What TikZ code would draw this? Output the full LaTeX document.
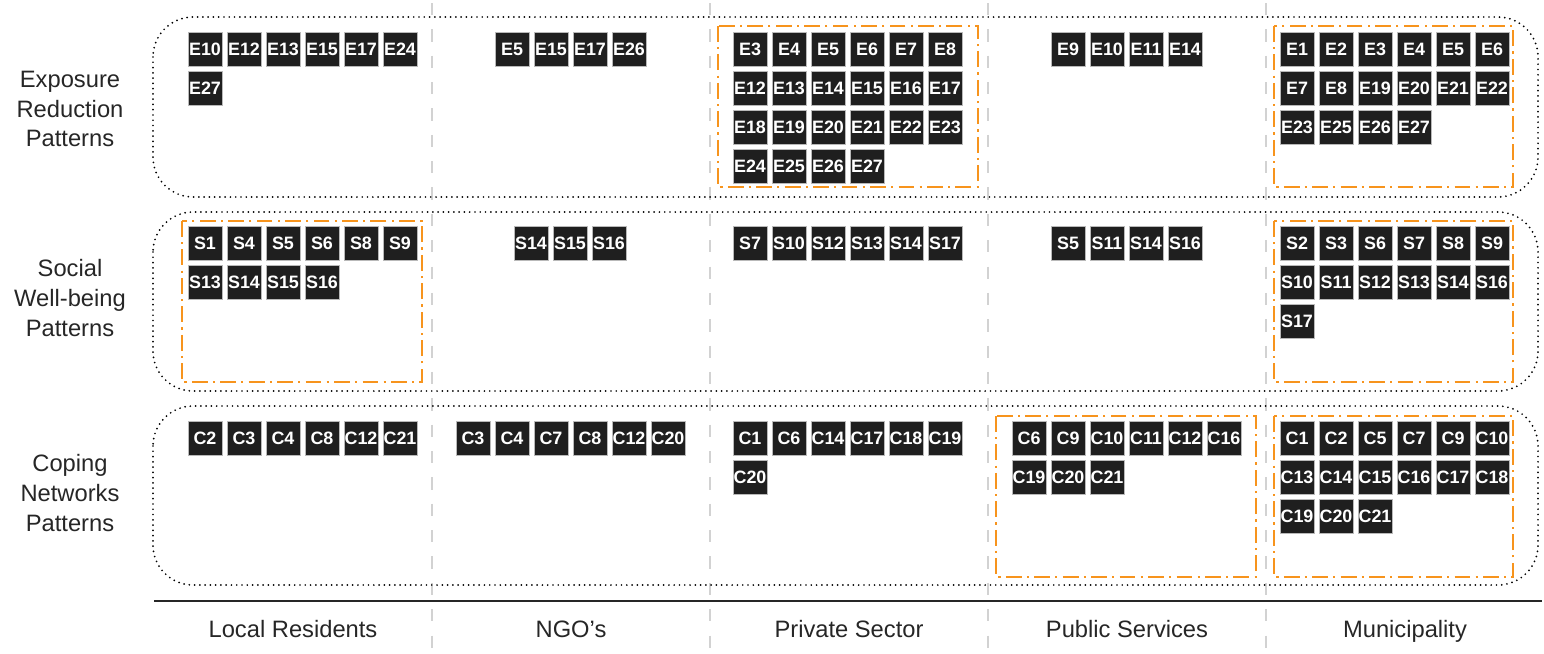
\documentclass[tikz,border=0pt]{standalone}
\usepackage{fontspec}
\setmainfont{Liberation Sans}
\usetikzlibrary{positioning}
\definecolor{hiorange}{HTML}{F7941D}

\tikzset{
  code/.style={draw=gray!55,line width=0.4pt,fill=black!88,text=white,inner sep=0pt,
    minimum width=0.68cm,minimum height=0.68cm,font=\bfseries\fontsize{10.2}{10}\selectfont},
  rowlabel/.style={align=center,text=black!85,font=\fontsize{13.5}{17}\selectfont},
  collabel/.style={anchor=base,text=black!85,font=\fontsize{13.5}{16}\selectfont},
  band/.style={rounded corners=0.8cm,line width=1.1pt,dash pattern=on 0pt off 3pt,line cap=round},
  focus/.style={hiorange,line width=1.1pt,dash pattern=on 9pt off 3pt on 1.2pt off 3pt},
  sep/.style={gray!35,line width=0.8pt,dash pattern=on 7pt off 8pt}
}

% codes in rows of six, from the top left corner of the first box
\newcommand{\codegrid}[4]{%
  \foreach \lbl [count=\k from 0] in {#4}{
    \pgfmathtruncatemacro{\cc}{mod(\k,6)}
    \pgfmathtruncatemacro{\rr}{floor(\k/6)}
    \node[code] (#1-\lbl) at ({#2+17+39*\cc},{#3+17+39*\rr}) {\lbl};
  }}

\begin{document}
\begin{tikzpicture}[x=0.02cm,y=-0.02cm]
  \useasboundingbox (0,0) rectangle (1544,653);
  % column separators
  \foreach \sx in {432,710,988,1266}
    \draw[sep] (\sx,3) -- (\sx,653);
  % pattern bands
  \draw[band] (153,17) rectangle (1538,197);
  \draw[band] (153,212) rectangle (1538,391);
  \draw[band] (153,406) rectangle (1538,585);
  % highlighted cells
  \draw[focus] (718,26) rectangle (978,187);
  \draw[focus] (1274,26) rectangle (1513,187);
  \draw[focus] (182,221) rectangle (422,382);
  \draw[focus] (1274,221) rectangle (1513,382);
  \draw[focus] (996,416) rectangle (1256,577);
  \draw[focus] (1274,416) rectangle (1513,577);
  % exposure reduction
  \codegrid{exp-lr}{188}{32}{E10,E12,E13,E15,E17,E24,E27}
  \codegrid{exp-ngo}{495}{32}{E5,E15,E17,E26}
  \codegrid{exp-ps}{733}{32}{E3,E4,E5,E6,E7,E8,E12,E13,E14,E15,E16,E17,E18,E19,E20,E21,E22,E23,E24,E25,E26,E27}
  \codegrid{exp-pub}{1051}{32}{E9,E10,E11,E14}
  \codegrid{exp-mun}{1280}{32}{E1,E2,E3,E4,E5,E6,E7,E8,E19,E20,E21,E22,E23,E25,E26,E27}
  % social well-being
  \codegrid{soc-lr}{188}{226}{S1,S4,S5,S6,S8,S9,S13,S14,S15,S16}
  \codegrid{soc-ngo}{514}{226}{S14,S15,S16}
  \codegrid{soc-ps}{733}{226}{S7,S10,S12,S13,S14,S17}
  \codegrid{soc-pub}{1051}{226}{S5,S11,S14,S16}
  \codegrid{soc-mun}{1280}{226}{S2,S3,S6,S7,S8,S9,S10,S11,S12,S13,S14,S16,S17}
  % coping networks
  \codegrid{cop-lr}{188}{421}{C2,C3,C4,C8,C12,C21}
  \codegrid{cop-ngo}{456}{421}{C3,C4,C7,C8,C12,C20}
  \codegrid{cop-ps}{733}{421}{C1,C6,C14,C17,C18,C19,C20}
  \codegrid{cop-pub}{1012}{421}{C6,C9,C10,C11,C12,C16,C19,C20,C21}
  \codegrid{cop-mun}{1280}{421}{C1,C2,C5,C7,C9,C10,C13,C14,C15,C16,C17,C18,C19,C20,C21}
  % row labels
  \node[rowlabel] (lbl-exp) at (70,109) {Exposure\\Reduction\\Patterns};
  \node[rowlabel] (lbl-soc) at (70,298) {Social\\Well-being\\Patterns};
  \node[rowlabel] (lbl-cop) at (70,493) {Coping\\Networks\\Patterns};
  % axis and column labels
  \coordinate (axis-l) at (154,601);
  \coordinate (axis-r) at (1542,601);
  \draw[line width=1pt,black!85] (axis-l) -- (axis-r);
  \node[collabel] (col-lr) at (293,637) {Local Residents};
  \node[collabel] (col-ngo) at (571,637) {NGO’s};
  \node[collabel] (col-ps) at (849,637) {Private Sector};
  \node[collabel] (col-pub) at (1127,637) {Public Services};
  \node[collabel] (col-mun) at (1405,637) {Municipality};
\end{tikzpicture}
\end{document}
